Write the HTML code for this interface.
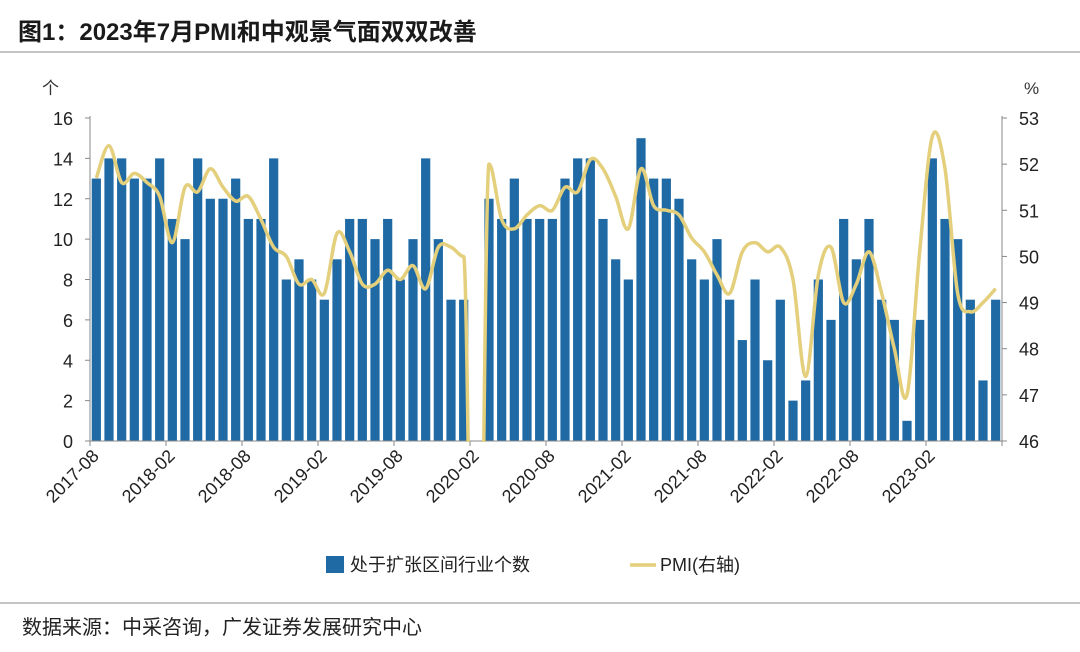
<!DOCTYPE html>
<html><head><meta charset="utf-8"><style>
html,body{margin:0;background:#fff;width:1080px;height:652px;overflow:hidden;}
svg{display:block;}
text{font-family:"Liberation Sans","Noto Sans CJK SC",sans-serif;}
</style></head><body>
<svg id="c" width="1080" height="652" viewBox="0 0 1080 652" xmlns="http://www.w3.org/2000/svg">
<text x="18" y="40" font-size="24" font-weight="bold" fill="#1a1a1a">图1：2023年7月PMI和中观景气面双双改善</text>
<line x1="0" y1="52" x2="1080" y2="52" stroke="#888" stroke-width="1"/>
<line x1="0" y1="603" x2="1080" y2="603" stroke="#888" stroke-width="1"/>
<text x="22" y="634" font-size="20" fill="#222">数据来源：中采咨询，广发证券发展研究中心</text>
<text x="42" y="94" font-size="17" fill="#333">个</text>
<text x="1024" y="94" font-size="17" fill="#333">%</text>
<g id="bars"></g><g id="axes"></g>
<defs><clipPath id="clip"><rect x="88" y="100" width="916" height="342"/></clipPath></defs>
<path id="pmi" fill="none" stroke="#E3CF7C" stroke-width="3.5" clip-path="url(#clip)"/>
<g>
<rect x="326" y="556" width="18" height="17" fill="#1F6AA5"/>
<text x="350" y="571" font-size="18" fill="#222">处于扩张区间行业个数</text>
<line x1="630" y1="565" x2="656" y2="565" stroke="#E3CF7C" stroke-width="3.5"/>
<text x="660" y="571" font-size="18" fill="#222">PMI(右轴)</text>
</g>
</svg>
<script>
const startYear=2017, startMonth=8;
const barValues=[13,14,14,13,13,14,11,10,14,12,12,13,11,11,14,8,9,8,7,9,11,11,10,11,8,10,14,10,7,7,0,
12,11,13,11,11,11,13,14,14,11,9,8,15,13,13,12,9,8,10,7,5,8,4,7,2,3,8,6,11,9,11,7,6,1,6,14,11,10,7,3,7];
const pmiValues=[51.7,52.4,51.6,51.8,51.6,51.3,50.3,51.5,51.4,51.9,51.5,51.2,51.3,50.8,50.2,50.0,49.4,49.5,49.2,50.5,50.1,49.4,49.4,49.7,49.5,49.8,49.3,50.2,50.2,50.0,35.7,
52.0,50.8,50.6,50.9,51.1,51.0,51.5,51.4,52.1,51.9,51.3,50.6,51.9,51.1,51.0,50.9,50.4,50.1,49.6,49.2,50.1,50.3,50.1,50.2,49.5,47.4,49.6,50.2,49.0,49.4,50.1,49.2,48.0,47.0,50.1,52.6,51.9,49.2,48.8,49.0,49.3];
const leftTicks=[0,2,4,6,8,10,12,14,16];
const rightTicks=[46,47,48,49,50,51,52,53];
const NS="http://www.w3.org/2000/svg";
const X0=90,X1=1002,Y0=441,Y1=118,n=barValues.length,bw=(X1-X0)/n;
const xc=i=>X0+bw*(i+0.5);
const yL=v=>Y0-(v-0)/16*(Y0-Y1);
const yR=v=>Y0-(v-46)/7*(Y0-Y1);
function mk(tag,attrs,parent){const e=document.createElementNS(NS,tag);for(const k in attrs)e.setAttribute(k,attrs[k]);parent.appendChild(e);return e;}
const bars=document.getElementById('bars'),axes=document.getElementById('axes');
barValues.forEach((v,i)=>{if(v<=0)return;
const r=mk('rect',{x:xc(i)-4.6,y:yL(v),width:9.2,height:Y0-yL(v),fill:'#1F6AA5'},bars);

});
mk('line',{x1:X0,y1:Y1-2,x2:X0,y2:Y0,stroke:'#888'},axes);
mk('line',{x1:X1,y1:Y1-2,x2:X1,y2:Y0,stroke:'#888'},axes);
mk('line',{x1:X0,y1:Y0,x2:X1,y2:Y0,stroke:'#888'},axes);
leftTicks.forEach(v=>{mk('line',{x1:X0-5,y1:yL(v),x2:X0,y2:yL(v),stroke:'#888'},axes);
const t=mk('text',{x:X0-17,y:yL(v)+7,'font-size':18,'text-anchor':'end',fill:'#222'},axes);t.textContent=v;

});
rightTicks.forEach(v=>{mk('line',{x1:X1,y1:yR(v),x2:X1+5,y2:yR(v),stroke:'#888'},axes);
const t=mk('text',{x:X1+17,y:yR(v)+7,'font-size':18,fill:'#222'},axes);t.textContent=v;

});
for(let i=0;i<=n;i+=6){const x=X0+bw*i;mk('line',{x1:x,y1:Y0,x2:x,y2:Y0+5,stroke:'#888'},axes);
if(i<n){const m=startMonth-1+i,yr=startYear+Math.floor(m/12),mo=m%12+1;
const t=mk('text',{x:x+10,y:Y0+16,'font-size':18,'text-anchor':'end',fill:'#222',transform:`rotate(-45 ${x+10} ${Y0+16})`},axes);
t.textContent=yr+'-'+String(mo).padStart(2,'0');

}}
const pts=pmiValues.map((v,i)=>[xc(i),yR(v)]);
const N=pts.length;
const tan=pts.map((p,i)=>{const a=pts[Math.max(i-1,0)],b=pts[Math.min(i+1,N-1)];
let tx=(b[0]-a[0])/2,ty=(b[1]-a[1])/2;
const dPrev=i>0?Math.abs(pmiValues[i]-pmiValues[i-1]):0,dNext=i<N-1?Math.abs(pmiValues[i+1]-pmiValues[i]):0;
if(dPrev>5||dNext>5)ty=0;
return [tx,ty];});
let d=`M${pts[0][0]},${pts[0][1]}`;
for(let i=0;i<N-1;i++){const p1=pts[i],p2=pts[i+1],t1=tan[i],t2=tan[i+1];
d+=` C${p1[0]+t1[0]/3},${p1[1]+t1[1]/3} ${p2[0]-t2[0]/3},${p2[1]-t2[1]/3} ${p2[0]},${p2[1]}`;}
document.getElementById('pmi').setAttribute('d',d);
</script>
</body></html>
